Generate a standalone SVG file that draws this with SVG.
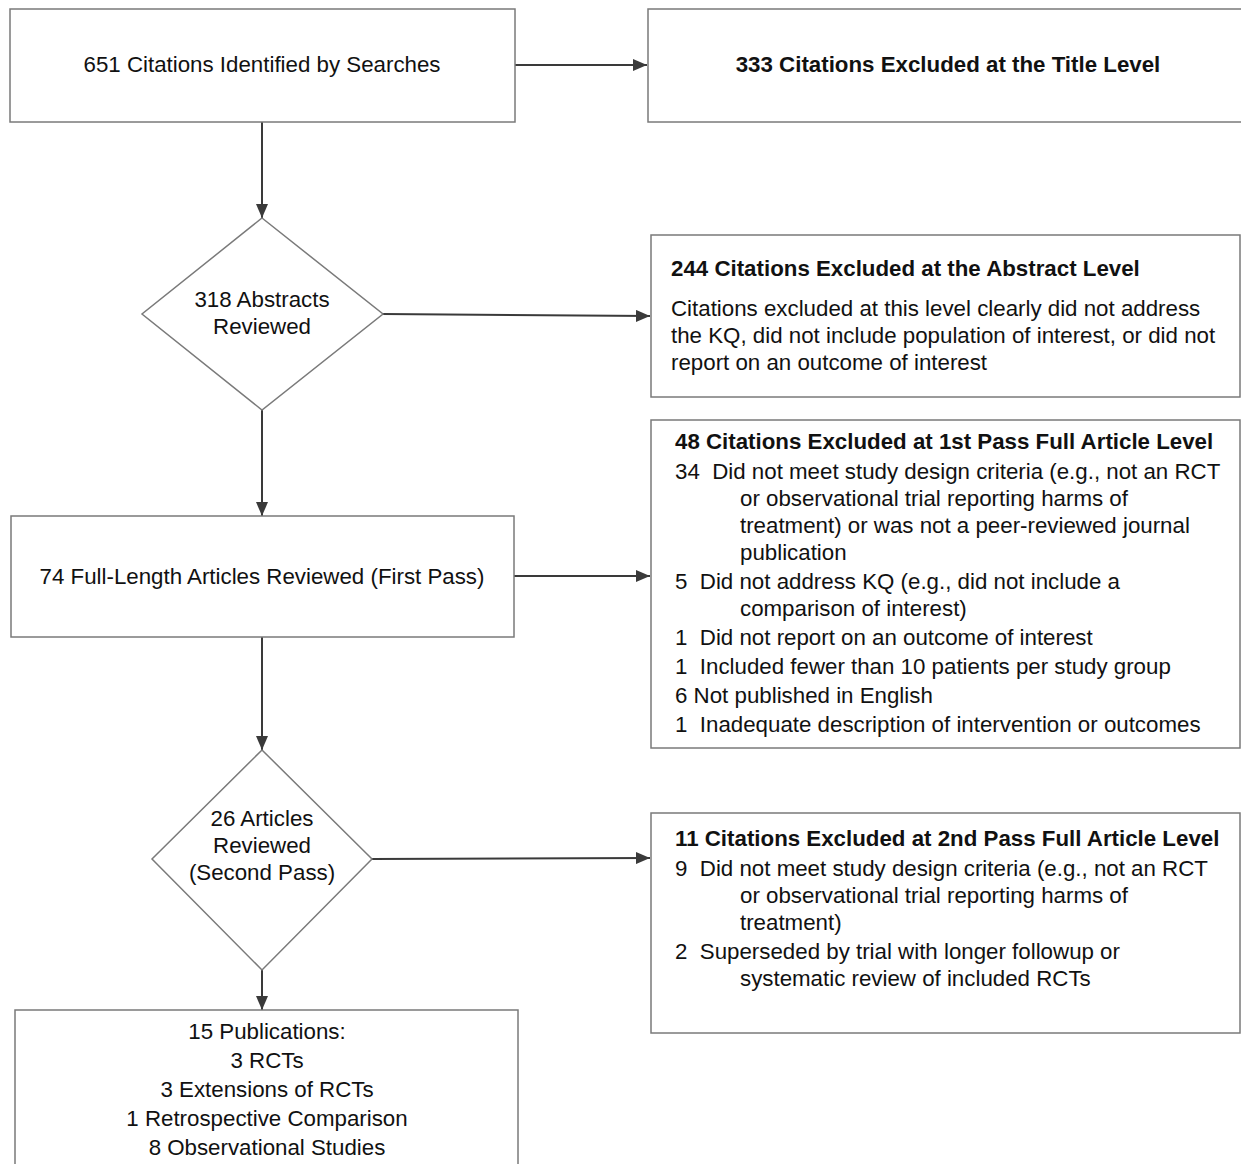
<svg xmlns="http://www.w3.org/2000/svg" width="1241" height="1164" viewBox="0 0 1241 1164">
<defs>
<marker id="arr" viewBox="0 0 14 12" refX="14" refY="6" markerWidth="14" markerHeight="12" markerUnits="userSpaceOnUse" orient="auto">
<path d="M0,0 L14,6 L0,12 z" fill="#3a3a3a"/>
</marker>
<style>
.box{fill:#fff;stroke:#7a7a7a;stroke-width:1.5}
.t{font-family:"Liberation Sans",Arial,sans-serif;font-size:22.3px;fill:#111;white-space:pre}
.c{text-anchor:middle}
.b{font-weight:bold}
.ln{stroke:#3a3a3a;stroke-width:2;fill:none;marker-end:url(#arr)}
</style>
</defs>
<rect width="1241" height="1164" fill="#fff"/>
<g id="connectors">
<line class="ln" x1="515" y1="65" x2="647" y2="65"/>
<line class="ln" x1="262" y1="122" x2="262" y2="218"/>
<line class="ln" x1="383" y1="314" x2="650" y2="316"/>
<line class="ln" x1="262" y1="410" x2="262" y2="516"/>
<line class="ln" x1="514" y1="576" x2="650" y2="576"/>
<line class="ln" x1="262" y1="637" x2="262" y2="750"/>
<line class="ln" x1="372" y1="859" x2="650" y2="858"/>
<line class="ln" x1="262" y1="970" x2="262" y2="1010"/>
</g>
<g id="n1">
<rect class="box" x="10" y="9" width="505" height="113"/>
<text class="t c" x="262" y="72">651 Citations Identified by Searches</text>
</g>
<g id="n2">
<rect class="box" x="648" y="9" width="600" height="113"/>
<text class="t c b" x="948" y="72">333 Citations Excluded at the Title Level</text>
</g>
<g id="n3">
<polygon class="box" points="262,218 383,314 262,410 142,314"/>
<text class="t c" x="262" y="307">318 Abstracts</text>
<text class="t c" x="262" y="334">Reviewed</text>
</g>
<g id="n4">
<rect class="box" x="651" y="235" width="589" height="162"/>
<text class="t b" x="671" y="276">244 Citations Excluded at the Abstract Level</text>
<text class="t" x="671" y="316">Citations excluded at this level clearly did not address</text>
<text class="t" x="671" y="343">the KQ, did not include population of interest, or did not</text>
<text class="t" x="671" y="370">report on an outcome of interest</text>
</g>
<g id="n5">
<rect class="box" x="11" y="516" width="503" height="121"/>
<text class="t c" x="262" y="584">74 Full-Length Articles Reviewed (First Pass)</text>
</g>
<g id="n6" xml:space="preserve">
<rect class="box" x="651" y="420" width="589" height="328"/>
<text class="t b" x="675" y="449">48 Citations Excluded at 1st Pass Full Article Level</text>
<text class="t" x="675" y="479">34  Did not meet study design criteria (e.g., not an RCT</text>
<text class="t" x="740" y="506">or observational trial reporting harms of</text>
<text class="t" x="740" y="533">treatment) or was not a peer-reviewed journal</text>
<text class="t" x="740" y="560">publication</text>
<text class="t" x="675" y="589">5  Did not address KQ (e.g., did not include a</text>
<text class="t" x="740" y="616">comparison of interest)</text>
<text class="t" x="675" y="645">1  Did not report on an outcome of interest</text>
<text class="t" x="675" y="674">1  Included fewer than 10 patients per study group</text>
<text class="t" x="675" y="703">6 Not published in English</text>
<text class="t" x="675" y="732">1  Inadequate description of intervention or outcomes</text>
</g>
<g id="n7">
<polygon class="box" points="262,750 372,859 262,970 152,859"/>
<text class="t c" x="262" y="826">26 Articles</text>
<text class="t c" x="262" y="853">Reviewed</text>
<text class="t c" x="262" y="880">(Second Pass)</text>
</g>
<g id="n8" xml:space="preserve">
<rect class="box" x="651" y="813" width="589" height="220"/>
<text class="t b" x="675" y="846">11 Citations Excluded at 2nd Pass Full Article Level</text>
<text class="t" x="675" y="876">9  Did not meet study design criteria (e.g., not an RCT</text>
<text class="t" x="740" y="903">or observational trial reporting harms of</text>
<text class="t" x="740" y="930">treatment)</text>
<text class="t" x="675" y="959">2  Superseded by trial with longer followup or</text>
<text class="t" x="740" y="986">systematic review of included RCTs</text>
</g>
<g id="n9">
<rect class="box" x="15" y="1010" width="503" height="170"/>
<text class="t c" x="267" y="1039">15 Publications:</text>
<text class="t c" x="267" y="1068">3 RCTs</text>
<text class="t c" x="267" y="1097">3 Extensions of RCTs</text>
<text class="t c" x="267" y="1126">1 Retrospective Comparison</text>
<text class="t c" x="267" y="1155">8 Observational Studies</text>
</g>
</svg>
